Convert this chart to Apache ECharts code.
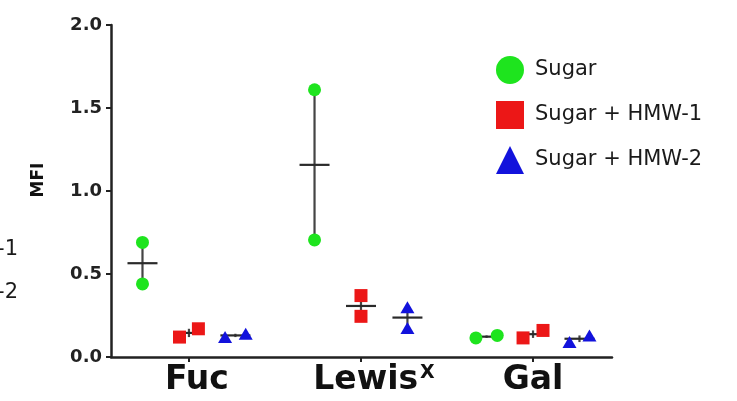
<!DOCTYPE html>
<html>
<head>
<meta charset="utf-8">
<script src="https://cdn.jsdelivr.net/npm/echarts@6/dist/echarts.min.js"></script>
<style>
html,body{margin:0;padding:0;background:#fff;}
#chart{width:737px;height:401px;}
</style>
</head>
<body>
<div id="chart"></div>
<script>
// ---- data ----
const categories = ['Fuc', 'Lewis', 'Gal'];
const seriesNames = ['Sugar', 'Sugar + HMW-1', 'Sugar + HMW-2'];
const sugarValues = [[0.44, 0.69], [0.705, 1.61], [0.115, 0.13]];
const hmw1Values = [[0.12, 0.17], [0.245, 0.37], [0.115, 0.16]];
const hmw2Values = [[0.12, 0.14], [0.175, 0.30], [0.09, 0.13]];
const yTickLabels = ['0.0', '0.5', '1.0', '1.5', '2.0'];
const clippedTexts = ['-1', '-2'];

// ---- layout / style ----
const allValues = [sugarValues, hmw1Values, hmw2Values];
const colors = ['#1ee41e', '#ec1717', '#1212dc'];
const symbols = ['circle', 'rect', 'triangle'];
const symbolSizes = [13, 13, [14, 12]];
const groupOffset = [-0.27, 0, 0.27];
const jitter = [
  [[0, 0], [0, 0], [-0.062, 0.062]],
  [[-0.055, 0.055], [0, 0], [-0.058, 0.058]],
  [[-0.06, 0.06], [0, 0], [-0.058, 0.058]]
];
const FONT = 'DejaVu Sans';

const series = [];
allValues.forEach((vals, s) => {
  const pts = [];
  const stats = [];
  vals.forEach((pair, c) => {
    const cx = c + 1 + groupOffset[s];
    pair.forEach((v, k) => pts.push([cx + jitter[s][c][k], v]));
    const n = pair.length;
    const mean = pair.reduce((a, b) => a + b, 0) / n;
    const sd = Math.sqrt(pair.reduce((a, b) => a + (b - mean) * (b - mean), 0) / (n - 1));
    const sem = sd / Math.sqrt(n);
    stats.push([cx, mean, mean - sem, mean + sem]);
  });
  series.push({
    type: 'custom',
    name: seriesNames[s] + ' stats',
    z: 2,
    silent: true,
    data: stats,
    renderItem: function (params, api) {
      const x = api.value(0), m = api.value(1), lo = api.value(2), hi = api.value(3);
      const c = api.coord([x, m]);
      const pl = api.coord([x, lo]);
      const ph = api.coord([x, hi]);
      return {
        type: 'group',
        children: [
          { type: 'line', shape: { x1: pl[0], y1: pl[1], x2: ph[0], y2: ph[1] }, style: { stroke: '#444', lineWidth: 2.2 } },
          { type: 'line', shape: { x1: c[0] - 15, y1: c[1], x2: c[0] + 15, y2: c[1] }, style: { stroke: '#2a2a2a', lineWidth: 2.2 } }
        ]
      };
    }
  });
  series.push({
    type: 'scatter',
    name: seriesNames[s],
    z: 3,
    symbol: symbols[s],
    symbolSize: symbolSizes[s],
    itemStyle: { color: colors[s], opacity: 1 },
    data: pts
  });
});

const chart = echarts.init(document.getElementById('chart'));
chart.setOption({
  animation: false,
  backgroundColor: '#fff',
  grid: { left: 111, top: 25, right: 125, bottom: 44 },
  legend: {
    orient: 'vertical',
    left: 496,
    top: 56,
    padding: 0,
    itemWidth: 28,
    itemHeight: 28,
    itemGap: 17,
    textStyle: { fontFamily: FONT, fontSize: 21, color: '#1a1a1a', padding: [0, 0, 0, 6] },
    data: seriesNames.map((n, i) => ({ name: n, icon: symbols[i], itemStyle: { color: colors[i] } }))
  },
  xAxis: {
    type: 'value',
    min: 0.547,
    max: 3.459,
    splitLine: { show: false },
    axisLine: { show: true, lineStyle: { color: '#222', width: 2.5 } },
    axisTick: { show: true, customValues: [1, 2, 3], length: 5, lineStyle: { color: '#222', width: 2 } },
    axisLabel: {
      customValues: [1, 2, 3],
      margin: 7,
      formatter: function (v) {
        const i = Math.round(v) - 1;
        if (i === 0) return '{fuc|' + categories[0] + '}';
        if (i === 1) return '{lew|' + categories[1] + '}{sup|X}';
        return '{b|' + categories[2] + '}';
      },
      rich: {
        b: { fontFamily: FONT, fontWeight: 'bold', fontSize: 33, color: '#111' },
        fuc: { fontFamily: FONT, fontWeight: 'bold', fontSize: 33, color: '#111', padding: [0, 0, 0, 16] },
        lew: { fontFamily: FONT, fontWeight: 'bold', fontSize: 33, color: '#111', padding: [0, 0, 0, 26] },
        sup: { fontFamily: FONT, fontWeight: 'bold', fontSize: 19, color: '#111', verticalAlign: 'top', padding: [0, 0, 0, 2] }
      }
    }
  },
  yAxis: {
    type: 'value',
    min: 0,
    max: 2,
    interval: 0.5,
    name: 'MFI',
    nameLocation: 'middle',
    nameRotate: 90,
    nameGap: 64,
    nameTextStyle: { fontFamily: FONT, fontWeight: 'bold', fontSize: 17, color: '#111', padding: [0, 0, 0, 22] },
    splitLine: { show: false },
    axisLine: { show: true, lineStyle: { color: '#222', width: 2.5 } },
    axisTick: { show: true, length: 5, lineStyle: { color: '#222', width: 2 } },
    axisLabel: {
      margin: 9,
      fontFamily: FONT,
      fontWeight: 'bold',
      fontSize: 18,
      color: '#222',
      formatter: function (v) { return yTickLabels[Math.round(v / 0.5)]; }
    }
  },
  graphic: clippedTexts.map((t, i) => ({
    type: 'text',
    right: 737 - 18,
    top: 239 + i * 43,
    style: { text: t, fontFamily: FONT, fontSize: 21, fill: '#1a1a1a' }
  })),
  series: series
});
</script>
</body>
</html>
